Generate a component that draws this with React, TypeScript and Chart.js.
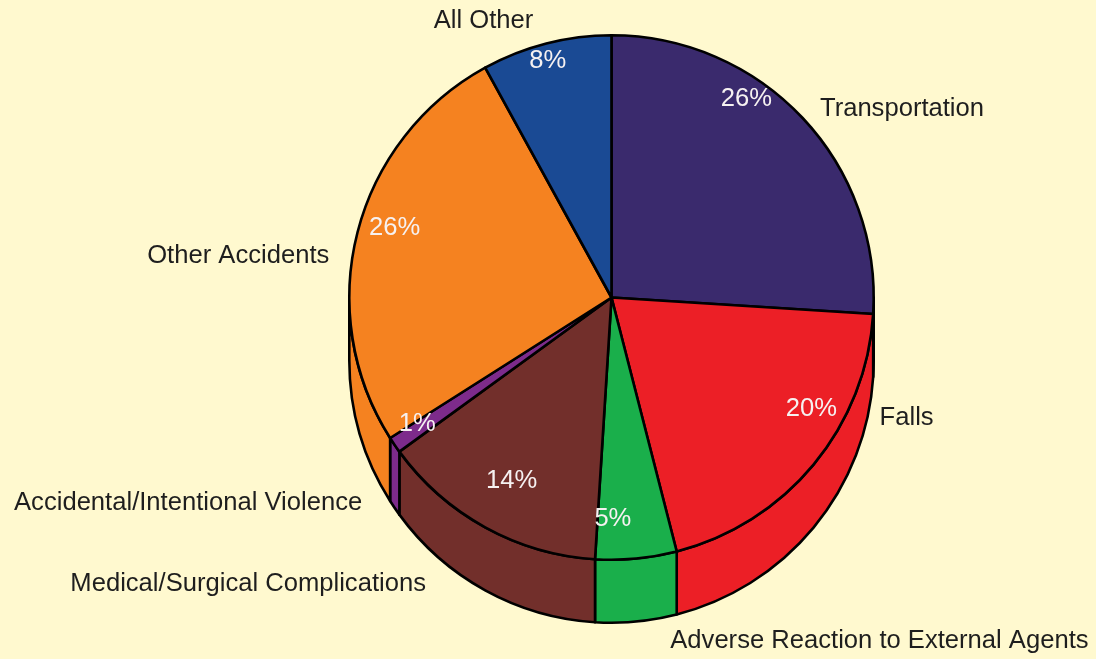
import React, { useEffect, useRef } from "react";
import { Chart, registerables } from "chart.js";

Chart.register(...registerables);

const categories = [
  "Transportation",
  "Falls",
  "Adverse Reaction to External Agents",
  "Medical/Surgical Complications",
  "Accidental/Intentional Violence",
  "Other Accidents",
  "All Other",
];
const percentages = [26, 20, 5, 14, 1, 26, 8];
const sliceColors = ["#3A2A6D", "#EC1F26", "#1AAF4B", "#722F2B", "#7D2B8B", "#F58220", "#1A4A94"];

// Layout for labels (not data): [fraction along slice angle, radius factor]
const innerLabelLayout: [number, number][] = [
  [0.363, 0.92], [0.35, 0.87], [0.78, 0.84], [0.5, 0.79], [0.92, 0.88], [0.54, 0.87], [0.48, 0.94],
];
// [angle in degrees from center, radius factor]
const outerLabelLayout: [number, number][] = [
  [-33.2, 1.324], [22, 1.214], [51.9, 1.656], [141.9, 1.761], [154.3, 1.792], [186.6, 1.433], [245.3, 1.168],
];
const DEPTH = 63;
const LINE = 2.6;
const TEXT_DY = 1.5;
const FONT = "25.6px 'Liberation Sans', Arial, sans-serif";

const pie3d = {
  id: "pie3d",
  beforeDatasetsDraw(chart: any) {
    const ctx = chart.ctx;
    const meta = chart.getDatasetMeta(0);
    meta.data.forEach((arc: any, i: number) => {
      const { x, y, startAngle, endAngle, outerRadius } = arc.getProps(
        ["x", "y", "startAngle", "endAngle", "outerRadius"], true);
      const a1 = Math.max(startAngle, 0);
      const a2 = Math.min(endAngle, Math.PI);
      if (a2 <= a1) return;
      ctx.save();
      ctx.beginPath();
      ctx.arc(x, y, outerRadius, a1, a2);
      ctx.lineTo(x + outerRadius * Math.cos(a2), y + DEPTH + outerRadius * Math.sin(a2));
      ctx.arc(x, y + DEPTH, outerRadius, a2, a1, true);
      ctx.closePath();
      ctx.fillStyle = sliceColors[i];
      ctx.fill();
      ctx.lineWidth = LINE;
      ctx.lineJoin = "round";
      ctx.strokeStyle = "#000";
      ctx.stroke();
      ctx.restore();
    });
  },
  afterDatasetsDraw(chart: any) {
    const ctx = chart.ctx;
    const meta = chart.getDatasetMeta(0);
    ctx.save();
    ctx.font = FONT;
    ctx.textAlign = "center";
    ctx.textBaseline = "middle";
    meta.data.forEach((arc: any, i: number) => {
      const { x, y, startAngle, endAngle, outerRadius } = arc.getProps(
        ["x", "y", "startAngle", "endAngle", "outerRadius"], true);
      const [f, rf] = innerLabelLayout[i];
      const a = startAngle + (endAngle - startAngle) * f;
      ctx.fillStyle = "#F6F1F1";
      ctx.fillText(percentages[i] + "%", x + Math.cos(a) * outerRadius * rf, y + Math.sin(a) * outerRadius * rf + TEXT_DY);
      const [deg, orf] = outerLabelLayout[i];
      const b = (deg * Math.PI) / 180;
      ctx.fillStyle = "#1E1E1E";
      ctx.fillText(categories[i], x + Math.cos(b) * outerRadius * orf, y + Math.sin(b) * outerRadius * orf + TEXT_DY);
    });
    ctx.restore();
  },
};

export default function App() {
  const ref = useRef<HTMLCanvasElement>(null);
  useEffect(() => {
    if (!ref.current) return;
    const chart = new Chart(ref.current, {
      type: "pie",
      data: {
        labels: categories,
        datasets: [
          {
            data: percentages,
            backgroundColor: sliceColors,
            borderColor: "#000",
            borderWidth: LINE,
            borderJoinStyle: "round",
          },
        ],
      },
      options: {
        responsive: false,
        animation: false,
        devicePixelRatio: 1,
        layout: { padding: { left: 348, right: 221, top: 34, bottom: 98 } },
        plugins: { legend: { display: false }, tooltip: { enabled: false } },
        events: [],
      },
      plugins: [pie3d],
    } as any);
    return () => chart.destroy();
  }, []);
  return (
    <div style={{ position: "absolute", left: 0, top: 0, width: 1096, height: 659, background: "#FFF9CF" }}>
      <canvas ref={ref} width={1096} height={659} style={{ display: "block", width: 1096, height: 659 }} />
    </div>
  );
}
